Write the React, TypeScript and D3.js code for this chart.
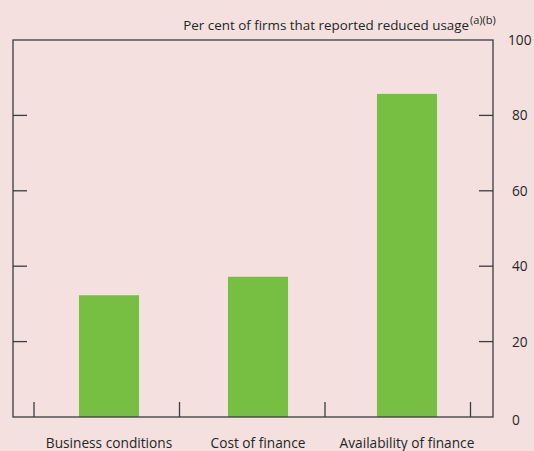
import React from "react";
import * as d3 from "d3";

const categories = ["Business conditions", "Cost of finance", "Availability of finance"];
const values = [32.3, 37.2, 85.7];
const yTicks = [0, 20, 40, 60, 80, 100];
const titleText = "Per cent of firms that reported reduced usage";
const titleSup = "(a)(b)";

const W = 534;
const H = 451;
const left = 13;
const right = 493;
const top = 40;
const bottom = 417;
const BG = "#f3e0df";
const GREEN = "#76bf43";
const AXIS = "#3c3c3c";
const TXT = "#262626";
const FONT = "'Open Sans', 'Noto Sans', sans-serif";

export default function App() {
  const y = d3.scaleLinear().domain([0, 100]).range([bottom, top]);
  const xBar = d3
    .scaleBand<string>()
    .domain(categories)
    .range([19.4, 496.6])
    .paddingInner(0.597)
    .paddingOuter(0.4);
  const xSep = d3.scaleBand<string>().domain(categories).range([34, 470.5]).padding(0);
  const sepXs = [...categories.map((c) => xSep(c) as number), 470.5];
  const innerTicks = yTicks.filter((t) => t > 0 && t < 100);

  return (
    <svg
      width={W}
      height={H}
      style={{ position: "absolute", left: 0, top: 0, display: "block" }}
      fontFamily={FONT}
    >
      <rect x={0} y={0} width={W} height={H} fill={BG} />
      {categories.map((c, i) => (
        <rect
          key={c}
          x={xBar(c)}
          y={y(values[i])}
          width={xBar.bandwidth()}
          height={bottom - y(values[i])}
          fill={GREEN}
        />
      ))}
      <rect
        x={left}
        y={top}
        width={right - left}
        height={bottom - top}
        fill="none"
        stroke={AXIS}
        strokeWidth={1.3}
      />
      {innerTicks.map((t) => (
        <g key={t}>
          <line x1={left} x2={left + 14} y1={y(t)} y2={y(t)} stroke={AXIS} strokeWidth={1.3} />
          <line x1={right - 14} x2={right} y1={y(t)} y2={y(t)} stroke={AXIS} strokeWidth={1.3} />
        </g>
      ))}
      {sepXs.map((sx, i) => (
        <line key={i} x1={sx} x2={sx} y1={bottom} y2={bottom - 15} stroke={AXIS} strokeWidth={1.3} />
      ))}
      {yTicks.map((t) => (
        <text
          key={t}
          x={t === 100 ? 508 : 512}
          y={y(t) + (t === 0 ? 8 : 5)}
          fontSize={13.7}
          fill={TXT}
        >
          {t}
        </text>
      ))}
      {categories.map((c) => (
        <text
          key={c}
          x={(xBar(c) as number) + xBar.bandwidth() / 2}
          y={448}
          fontSize={13.7}
          textAnchor="middle"
          fill={TXT}
        >
          {c}
        </text>
      ))}
      <text x={469} y={30} fontSize={13.4} textAnchor="end" fill={TXT}>
        {titleText}
      </text>
      <text x={470} y={24} fontSize={11} textAnchor="start" fill={TXT}>
        {titleSup}
      </text>
    </svg>
  );
}
